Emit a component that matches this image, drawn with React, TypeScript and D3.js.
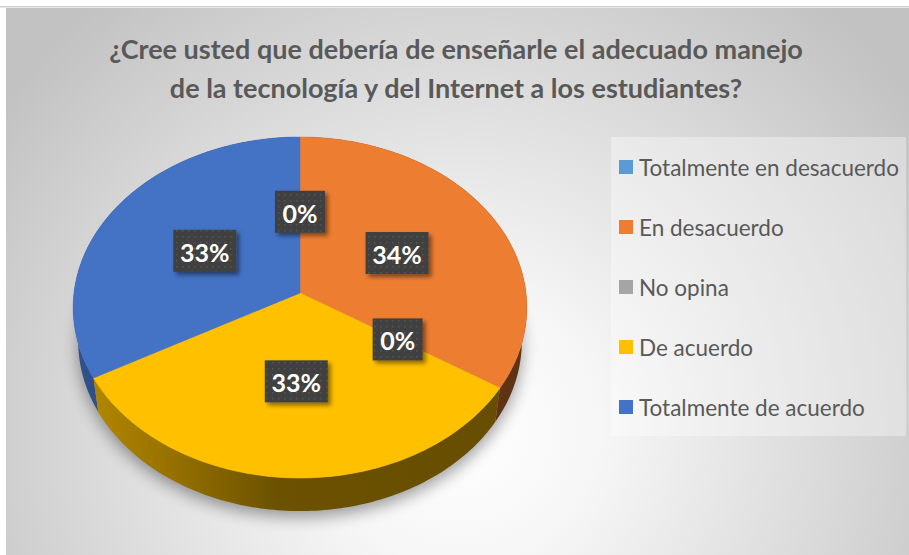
import React from "react";
import * as d3 from "d3";

const categories = [
  "Totalmente en desacuerdo",
  "En desacuerdo",
  "No opina",
  "De acuerdo",
  "Totalmente de acuerdo",
];
const values = [0, 34, 0, 33, 33];
const colors = ["#5B9BD5", "#ED7D31", "#A5A5A5", "#FFC000", "#4472C4"];
const titleLines = [
  "¿Cree usted que debería de enseñarle el adecuado manejo",
  "de la tecnología y del Internet a los estudiantes?",
];

const W = 909;
const H = 555;
// perspective projection of the 3D pie
const CX = 300;
const CY = 293;
const S = 226;
const D = 7.78;
const sinT = 0.749;
const cosT = 0.662;
const DEPTH = 0.235;

function project(u: number, z: number, y: number): [number, number] {
  const Yc = y * cosT + z * sinT;
  const Zc = D + z * cosT - y * sinT;
  return [CX + (S * D * u) / Zc, CY - (S * D * Yc) / Zc];
}
function ptAt(theta: number, r: number, y: number) {
  return project(r * Math.sin(theta), r * Math.cos(theta), y);
}
function arcPts(a0: number, a1: number, y: number) {
  const n = Math.max(2, Math.ceil(((a1 - a0) * 180) / Math.PI));
  return d3.range(n + 1).map((i) => ptAt(a0 + ((a1 - a0) * i) / n, 1, y));
}
const line = (pts: [number, number][]) =>
  "M" + pts.map((p) => p[0].toFixed(2) + "," + p[1].toFixed(2)).join("L") + "Z";

function scaleColor(c: string, f: number) {
  const r = d3.rgb(c);
  return d3.rgb(r.r * f, r.g * f, r.b * f).formatHex();
}

export default function App() {
  const pie = d3
    .pie<number>()
    .sort(null)
    .startAngle(0)
    .endAngle(2 * Math.PI)
    .value((d) => d);
  const arcs = pie(values);
  const total = d3.sum(values);

  const slices = arcs.map((a, i) => {
    const top =
      a.endAngle - a.startAngle > 0
        ? line([project(0, 0, 0), ...arcPts(a.startAngle, a.endAngle, 0)])
        : "";
    const side =
      a.endAngle - a.startAngle > 0
        ? line([
            ...arcPts(a.startAngle, a.endAngle, 0),
            ...arcPts(a.startAngle, a.endAngle, -DEPTH).reverse(),
          ])
        : "";
    const mid = (a.startAngle + a.endAngle) / 2;
    const depthKey = Math.cos(mid);
    return { i, top, side, mid, depthKey };
  });
  const sideOrder = [...slices].sort((a, b) => b.depthKey - a.depthKey);

  const shadowPath = line(arcPts(0, 2 * Math.PI, -DEPTH));

  const legendY = d3
    .scalePoint<string>()
    .domain(categories)
    .range([167, 407]);

  return (
    <div style={{ position: "absolute", left: 0, top: 0 }}>
      <svg width={W} height={H} style={{ display: "block" }}>
        <defs>
          <radialGradient
            id="bg"
            gradientUnits="userSpaceOnUse"
            cx={460}
            cy={430}
            r={560}
            fx={460}
            fy={430}
          >
            <stop offset="0" stopColor="#ffffff" />
            <stop offset="0.25" stopColor="#f6f6f6" />
            <stop offset="1" stopColor="#c2c2c2" />
          </radialGradient>
          <filter id="blur" x="-20%" y="-20%" width="140%" height="140%">
            <feGaussianBlur stdDeviation="8" />
          </filter>
          <filter id="lblShadow" x="-30%" y="-30%" width="160%" height="160%">
            <feDropShadow dx="3" dy="3" stdDeviation="2" floodColor="#000" floodOpacity="0.45" />
          </filter>
          <pattern id="dots" width="6" height="6" patternUnits="userSpaceOnUse">
            <rect width="6" height="6" fill="#404040" />
            <rect x="2" y="2" width="1.5" height="1.5" fill="#555555" />
          </pattern>
          {colors.map((c, i) => (
            <linearGradient
              key={i}
              id={"side" + i}
              gradientUnits="userSpaceOnUse"
              x1={75}
              x2={527}
              y1={0}
              y2={0}
            >
              <stop offset="0" stopColor={scaleColor(c, 0.72)} />
              <stop offset="0.2" stopColor={scaleColor(c, 0.6)} />
              <stop offset="0.45" stopColor={scaleColor(c, 0.42)} />
              <stop offset="1" stopColor={scaleColor(c, 0.4)} />
            </linearGradient>
          ))}
        </defs>

        <rect x={0} y={0} width={W} height={H} fill="#ffffff" />
        <rect x={0} y={6} width={W} height={1.5} fill="#d0d0d0" />
        <rect x={6} y={8} width={W - 6} height={H - 8} fill="url(#bg)" />

        {/* title */}
        {titleLines.map((t, i) => (
          <text
            key={i}
            x={456}
            y={48 + i * 39}
            textAnchor="middle"
            dominantBaseline="central"
            fontFamily="Lato, 'Open Sans', sans-serif"
            fontWeight="bold"
            fontSize={27}
            fill="#595959"
          >
            {t}
          </text>
        ))}

        {/* shadow */}
        <path
          d={shadowPath}
          transform="translate(0,6) scale(1.0)"
          fill="#000"
          opacity={0.38}
          filter="url(#blur)"
        />

        {/* sides */}
        {sideOrder.map((s) =>
          s.side ? (
            <path key={"s" + s.i} d={s.side} fill={`url(#side${s.i})`} />
          ) : null
        )}
        {/* tops */}
        {slices.map((s) =>
          s.top ? (
            <path key={"t" + s.i} d={s.top} fill={colors[s.i]} stroke={colors[s.i]} strokeWidth={0.5} />
          ) : null
        )}

        {/* data labels */}
        {slices.map((s) => {
          const [lx, ly] = ptAt(s.mid, 0.5, 0);
          const txt = Math.round((values[s.i] / total) * 100) + "%";
          const bw = 13 * txt.length + 24;
          const bh = 42;
          return (
            <g key={"l" + s.i}>
              <rect
                x={lx - bw / 2}
                y={ly - bh / 2}
                width={bw}
                height={bh}
                fill="url(#dots)"
                filter="url(#lblShadow)"
              />
              <text
                x={lx}
                y={ly + 1}
                textAnchor="middle"
                dominantBaseline="central"
                fontFamily="Lato, 'Open Sans', sans-serif"
                fontWeight="bold"
                fontSize={25}
                fill="#ffffff"
              >
                {txt}
              </text>
            </g>
          );
        })}

        {/* legend */}
        <rect x={611} y={137} width={295} height={299} fill="#ffffff" opacity={0.35} />
        {categories.map((c, i) => (
          <g key={c}>
            <rect x={619} y={(legendY(c) as number) - 7} width={14} height={14} fill={colors[i]} />
            <text
              x={639}
              y={legendY(c) as number}
              dominantBaseline="central"
              fontFamily="Lato, 'Open Sans', sans-serif"
              fontSize={22.5}
              fill="#595959"
            >
              {c}
            </text>
          </g>
        ))}
      </svg>
    </div>
  );
}
